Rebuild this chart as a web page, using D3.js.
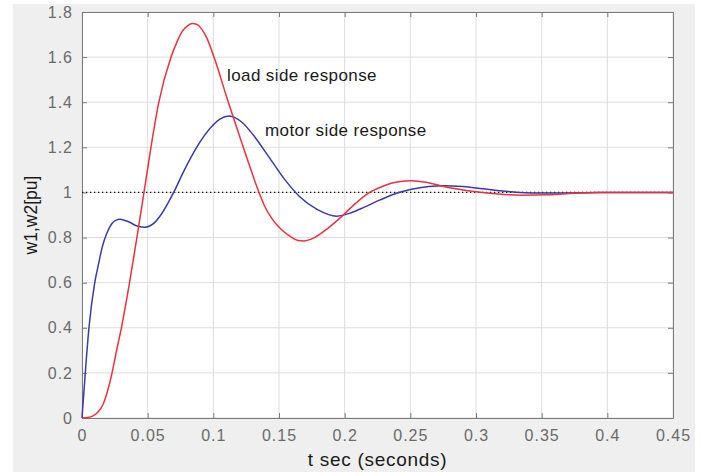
<!DOCTYPE html>
<html lang="en">
<head>
    <meta charset="UTF-8">
    <title>Load and motor side response</title>
    <style>
        body { margin: 0; background: #ffffff; }
        text { font-family: "Liberation Sans", Arial, sans-serif; }
    </style>
</head>
<body>
    <div id="chart"></div>
    <script src="https://d3js.org/d3.v7.min.js"></script>
    <script>

        // load side response (red)
        var loadT = [0, 0.004, 0.008, 0.012, 0.016, 0.019, 0.0225, 0.026, 0.030, 0.0362, 0.0418, 0.0472, 0.0525, 0.0585, 0.0678, 0.0725, 0.0765, 0.0805, 0.084, 0.0875, 0.091, 0.095, 0.1005, 0.1114, 0.1228, 0.1348, 0.139, 0.1445, 0.151, 0.1585, 0.1645, 0.1685, 0.177, 0.187, 0.198, 0.209, 0.219, 0.23, 0.241, 0.251, 0.262, 0.273, 0.286, 0.3, 0.317, 0.335, 0.355, 0.375, 0.395, 0.42, 0.45];
        var loadW = [0, 0.002, 0.008, 0.025, 0.06, 0.11, 0.19, 0.29, 0.4, 0.6, 0.8, 1.0, 1.2, 1.4, 1.6, 1.67, 1.715, 1.74, 1.749, 1.745, 1.725, 1.685, 1.6, 1.4, 1.2, 1.0, 0.94, 0.885, 0.84, 0.805, 0.787, 0.785, 0.80, 0.84, 0.895, 0.955, 1.0, 1.03, 1.047, 1.052, 1.045, 1.03, 1.015, 1.003, 0.993, 0.988, 0.99, 0.996, 1.0, 1.0, 1.0];

        // motor side response (blue)
        var motorT = [0, 0.0025, 0.0053, 0.0097, 0.0125, 0.0155, 0.019, 0.0225, 0.026, 0.029, 0.035, 0.0426, 0.048, 0.055, 0.06, 0.0698, 0.078, 0.0873, 0.1, 0.105, 0.112, 0.122, 0.131, 0.142, 0.154, 0.166, 0.179, 0.194, 0.205, 0.215, 0.227, 0.239, 0.251, 0.264, 0.276, 0.29, 0.305, 0.32, 0.333, 0.35, 0.37, 0.39, 0.45];
        var motorW = [0, 0.2, 0.4, 0.6, 0.68, 0.76, 0.82, 0.86, 0.877, 0.881, 0.871, 0.85, 0.846, 0.865, 0.9, 1.0, 1.1, 1.2, 1.3, 1.325, 1.339, 1.31, 1.25, 1.16, 1.06, 0.98, 0.925, 0.895, 0.91, 0.935, 0.967, 0.995, 1.014, 1.026, 1.03, 1.026, 1.016, 1.006, 1.0, 0.997, 0.998, 1.0, 1.0];

        var xTicks = [0, 0.05, 0.1, 0.15, 0.2, 0.25, 0.3, 0.35, 0.4, 0.45];
        var yTicks = [0, 0.2, 0.4, 0.6, 0.8, 1, 1.2, 1.4, 1.6, 1.8];
        var refLevel = 1;

        var width = 702, height = 472;
        var plot = {left: 82, right: 673, top: 12, bottom: 418};

        var svg = d3.select("#chart").append("svg")
            .attr("width", width)
            .attr("height", height);

        // grey figure background
        svg.append("rect")
            .attr("x", 13).attr("y", 4)
            .attr("width", 682).attr("height", 468)
            .attr("fill", "#efefef");

        var x = d3.scaleLinear().domain([0, 0.45]).range([plot.left, plot.right]);
        var y = d3.scaleLinear().domain([0, 1.8]).range([plot.bottom, plot.top]);

        svg.append("rect")
            .attr("x", plot.left).attr("y", plot.top)
            .attr("width", plot.right - plot.left).attr("height", plot.bottom - plot.top)
            .attr("fill", "#ffffff");

        // grid
        svg.append("g")
            .selectAll("line")
            .data(xTicks)
            .enter().append("line")
            .attr("x1", function(d) { return x(d); })
            .attr("x2", function(d) { return x(d); })
            .attr("y1", plot.top).attr("y2", plot.bottom)
            .attr("stroke", "#dddddd");

        svg.append("g")
            .selectAll("line")
            .data(yTicks)
            .enter().append("line")
            .attr("y1", function(d) { return y(d); })
            .attr("y2", function(d) { return y(d); })
            .attr("x1", plot.left).attr("x2", plot.right)
            .attr("stroke", "#dddddd");

        // axes, ticks point inwards like matlab
        var fmt = function(d) { return d3.format("")(+d.toFixed(2)); };

        var xAxis = svg.append("g")
            .attr("transform", "translate(0," + plot.bottom + ")")
            .call(d3.axisBottom(x).tickValues(xTicks).tickSizeInner(-5).tickSizeOuter(0).tickPadding(12).tickFormat(fmt));
        var yAxis = svg.append("g")
            .attr("transform", "translate(" + plot.left + ",0)")
            .call(d3.axisLeft(y).tickValues(yTicks).tickSizeInner(-5).tickSizeOuter(0).tickPadding(9).tickFormat(fmt));
        var xTop = svg.append("g")
            .attr("transform", "translate(0," + plot.top + ")")
            .call(d3.axisTop(x).tickValues(xTicks).tickSizeInner(-5).tickSizeOuter(0).tickFormat(""));
        var yRight = svg.append("g")
            .attr("transform", "translate(" + plot.right + ",0)")
            .call(d3.axisRight(y).tickValues(yTicks).tickSizeInner(-5).tickSizeOuter(0).tickFormat(""));

        [xAxis, yAxis, xTop, yRight].forEach(function(g) {
            g.select(".domain").attr("stroke", "#7a7a7a");
            g.selectAll(".tick line").attr("stroke", "#7a7a7a");
            g.selectAll(".tick text")
                .attr("fill", "#6a6a6a")
                .style("font-size", "16px")
                .style("letter-spacing", "1px")
                .style("font-family", "'Liberation Sans', Arial, sans-serif");
        });

        // dotted reference line at 1
        svg.append("line")
            .attr("x1", x(0)).attr("x2", x(0.45))
            .attr("y1", y(refLevel)).attr("y2", y(refLevel))
            .attr("stroke", "#111111")
            .attr("stroke-width", 1.3)
            .attr("stroke-dasharray", "1.3,2.7");

        var line = d3.line()
            .x(function(d) { return x(d[0]); })
            .y(function(d) { return y(d[1]); })
            .curve(d3.curveMonotoneX);

        svg.append("path")
            .datum(d3.zip(motorT, motorW))
            .attr("d", line)
            .attr("fill", "none")
            .attr("stroke", "#3a3aa8")
            .attr("stroke-width", 1.5);

        svg.append("path")
            .datum(d3.zip(loadT, loadW))
            .attr("d", line)
            .attr("fill", "none")
            .attr("stroke", "#e8323e")
            .attr("stroke-width", 1.5);

        // annotations
        svg.append("text")
            .attr("x", 227).attr("y", 81)
            .attr("fill", "#1a1a1a")
            .style("font-size", "17px")
            .style("letter-spacing", "0.4px")
            .text("load side response");

        svg.append("text")
            .attr("x", 265).attr("y", 136)
            .attr("fill", "#1a1a1a")
            .style("font-size", "17px")
            .style("letter-spacing", "0.4px")
            .text("motor side response");

        // axis titles
        svg.append("text")
            .attr("x", (plot.left + plot.right) / 2)
            .attr("y", 466)
            .attr("text-anchor", "middle")
            .attr("fill", "#1a1a1a")
            .style("font-size", "19px")
            .style("letter-spacing", "0.7px")
            .text("t sec (seconds)");

        svg.append("text")
            .attr("transform", "translate(37," + ((plot.top + plot.bottom) / 2) + ") rotate(-90)")
            .attr("text-anchor", "middle")
            .attr("fill", "#1a1a1a")
            .style("font-size", "17.5px")
            .text("w1,w2[pu]");

    </script>
</body>
</html>
